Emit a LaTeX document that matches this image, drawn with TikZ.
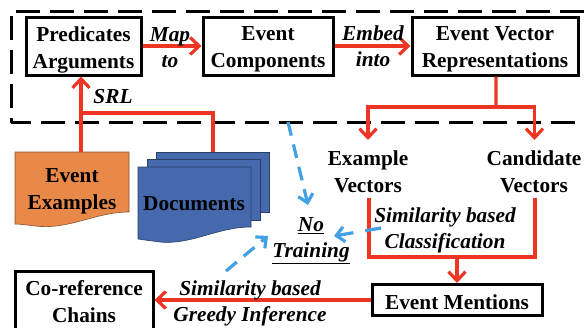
\documentclass[tikz,border=0pt]{standalone}
\usepackage{fontspec}
\setmainfont{Liberation Serif}
\usetikzlibrary{arrows.meta,calc}
\definecolor{redl}{HTML}{EE3524}
\definecolor{bluel}{HTML}{42A0E4}
\definecolor{orangef}{HTML}{E8894A}
\definecolor{bluef}{HTML}{4569AC}
\tikzset{
 bx/.style={draw=black,line width=3pt,fill=white,inner sep=0pt,align=center,font=\fontsize{21.3}{27}\selectfont\bfseries},
 lab/.style={inner sep=0pt,align=center,font=\fontsize{21.3}{27}\selectfont\bfseries},
 ilab/.style={inner sep=0pt,align=center,font=\fontsize{21.3}{26}\selectfont\bfseries\itshape},
 redar/.style={draw=redl,line width=3.2pt,-{Straight Barb[length=9pt,width=17pt,line width=3.2pt]}},
 redln/.style={draw=redl,line width=3.2pt},
 bluear/.style={draw=bluel,line width=3.2pt,dash pattern=on 14pt off 9pt,-{Straight Barb[length=8pt,width=15pt,line width=3.2pt]}},
 docshape/.style={line width=0.6pt,draw=#1!60!black,fill=#1},
}
\begin{document}
\begin{tikzpicture}[x=1pt,y=-1pt]
\useasboundingbox (0,0) rectangle (584,327);
\fill[white] (0,0) rectangle (584,327);
% dashed frame
\draw[black,line width=3pt,dash pattern=on 24pt off 10pt,line join=round] (584,11) -- (11,11) -- (11,122) -- (578,122);
% boxes
\node[bx,minimum width=115pt,minimum height=58pt] (pa) at (83.5,46) {};
\node[lab] (patext) at (83.5,49.5) {Predicates\\Arguments};
\node[bx,minimum width=130pt,minimum height=58pt] (ec) at (268,46) {};
\node[lab] (ectext) at (268,49.5) {Event\\Components};
\node[bx,minimum width=166pt,minimum height=58pt] (ev) at (495,46) {};
\node[lab] (evtext) at (495,49) {Event Vector\\Representations};
\node[bx,minimum width=138pt,minimum height=62pt] (cr) at (84,302) {};
\node[lab] (crtext) at (84,302) {Co-reference\\Chains};
\node[bx,minimum width=170pt,minimum height=31pt] (em) at (457,300) {};
\node[lab] (emtext) at (457,302) {Event Mentions};
% documents
\draw[docshape=orangef] (15,152) -- (129,152) -- (129,212) .. controls (95,212) and (70,230) .. (35,226) .. controls (27,225) and (20,224) .. (15,224) -- cycle;
\node[lab] (ex) at (72,191.5) {Event\\Examples};
\draw[docshape=bluef] (156,152) rectangle (269,212);
\draw[docshape=bluef] (147,159) rectangle (260,220);
\draw[docshape=bluef] (138,167) -- (251,167) -- (251,227) .. controls (217,227) and (192,245) .. (160,242) .. controls (152,241) and (145,240) .. (138,239) -- cycle;
\node[lab] (dc) at (194,204) {Documents};
% vectors
\node[lab] (xv) at (368,171.5) {Example\\Vectors};
\node[lab] (cv) at (534,171.5) {Candidate\\Vectors};
% junctions
\coordinate (pin1) at (81,152);
\coordinate (pin2) at (213,152);
\coordinate (j1) at (81,113);
\coordinate (j2) at (496,107);
\coordinate (xt) at (368,140);
\coordinate (ct) at (534.5,140);
\coordinate (xb) at (369,198);
\coordinate (cb) at (535,198);
\coordinate (j3) at (457,257);
% red connectors
\draw[redar] (pa.east) -- (ec.west);
\draw[redar] (ec.east) -- (ev.west);
\draw[redar] (pin1) -- (81,76.5);
\draw[redln,line join=miter] (pin2) |- (j1);
\draw[redln] ($(ev.south west)!0.506!(ev.south east)$) -- (j2);
\draw[redar] (j2) -| (xt);
\draw[redar] (j2) -| (ct);
\draw[redln] (xb) |- (j3);
\draw[redln] (cb) |- (j3);
\draw[redar] (j3) -- (em.north);
\draw[redar] (em.west) -- (cr.east |- em.west);
% italic labels
\node[ilab] at (170,48) {Map\\to};
\node[ilab] (m) at (373,46) {Embed\\into};
\node[ilab] at (113,97) {SRL};
\node[ilab] (sc) at (445,230) {Similarity based\\Classification};
\node[ilab] at (250,303) {Similarity based\\Greedy Inference};
\node[ilab] (nt) at (311,241) {\underline{No}\\\underline{Training}};
% blue connectors
\coordinate (b1) at (288,122);
\coordinate (b2) at (226,271);
\coordinate (b3) at (381,228);
\draw[bluear] (b1) -- (308,205);
\draw[bluear,dash pattern=on 16pt off 12pt] (b3) -- (334,236);
\draw[bluear] (b2) -- (268,236);
\end{tikzpicture}
\end{document}
